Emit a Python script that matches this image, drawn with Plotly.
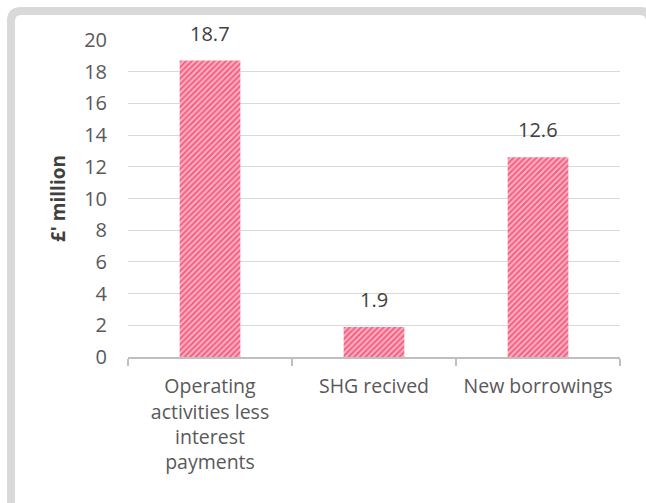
import plotly.graph_objects as go

categories = ["Operating<br>activities less<br>interest<br>payments", "SHG recived", "New borrowings"]
values = [18.7, 1.9, 12.6]
labels = ["18.7", "1.9", "12.6"]
y_ticks = [0, 2, 4, 6, 8, 10, 12, 14, 16, 18, 20]

W, H = 646, 503
ml, mr, mt, mb = 128, 26, 40, 146
pw, ph = W - ml - mr, H - mt - mb

def px2paper_x(px):
    return (px - ml) / pw

def px2paper_y(py):
    return 1 - (py - mt) / ph

fig = go.Figure()
fig.add_trace(go.Bar(
    x=categories, y=values,
    marker=dict(color="#ffb3c3", line=dict(width=0),
                pattern=dict(shape="/", fgcolor="#e60a40", bgcolor="#ffb3c3",
                             size=4, solidity=0.5)),
    hoverinfo="x+y",
))

for c, v, t in zip(categories, values, labels):
    fig.add_annotation(x=c, y=v, text=t, showarrow=False, yanchor="bottom",
                       yshift=12, font=dict(size=20, color="#404040"))

# outer rounded border
x0, y0, x1, y1, r = 11, 11, 646 + 4, 503 + 10, 10
xs = lambda v: px2paper_x(v)
ys = lambda v: px2paper_y(v)
path = (f"M {xs(x0)},{ys(y1)} L {xs(x0)},{ys(y0 + r)} Q {xs(x0)},{ys(y0)} {xs(x0 + r)},{ys(y0)} "
        f"L {xs(x1 - r)},{ys(y0)} Q {xs(x1)},{ys(y0)} {xs(x1)},{ys(y0 + r)} L {xs(x1)},{ys(y1)}")
fig.add_shape(type="path", xref="paper", yref="paper", path=path,
              line=dict(color="#d9d9d9", width=8), layer="below")

fig.update_layout(
    width=W, height=H,
    margin=dict(l=ml, r=mr, t=mt, b=mb, autoexpand=False),
    paper_bgcolor="white", plot_bgcolor="white",
    font=dict(family="Open Sans, Liberation Sans, sans-serif", size=20, color="#595959"),
    bargap=0.63,
    showlegend=False,
    xaxis=dict(
        showline=True, linecolor="#bfbfbf", linewidth=2,
        ticks="outside", tickson="boundaries", ticklen=7, tickcolor="#bfbfbf", tickwidth=2,
        tickfont=dict(size=19.5, color="#595959"),
        ticklabelstandoff=11,
        showgrid=False, automargin=False,
    ),
    yaxis=dict(
        range=[0, 20], tickvals=y_ticks,
        showgrid=True, gridcolor="#d9d9d9", gridwidth=1,
        showline=False, zeroline=False,
        tickfont=dict(size=20, color="#595959"),
        ticklabelstandoff=20, automargin=False,
        title=dict(text="<b>£' million</b>", font=dict(size=19, color="#404040"), standoff=13),
    ),
)

fig.write_html("out.html", post_script="document.body.style.margin='0';",
               config={"displayModeBar": False})
